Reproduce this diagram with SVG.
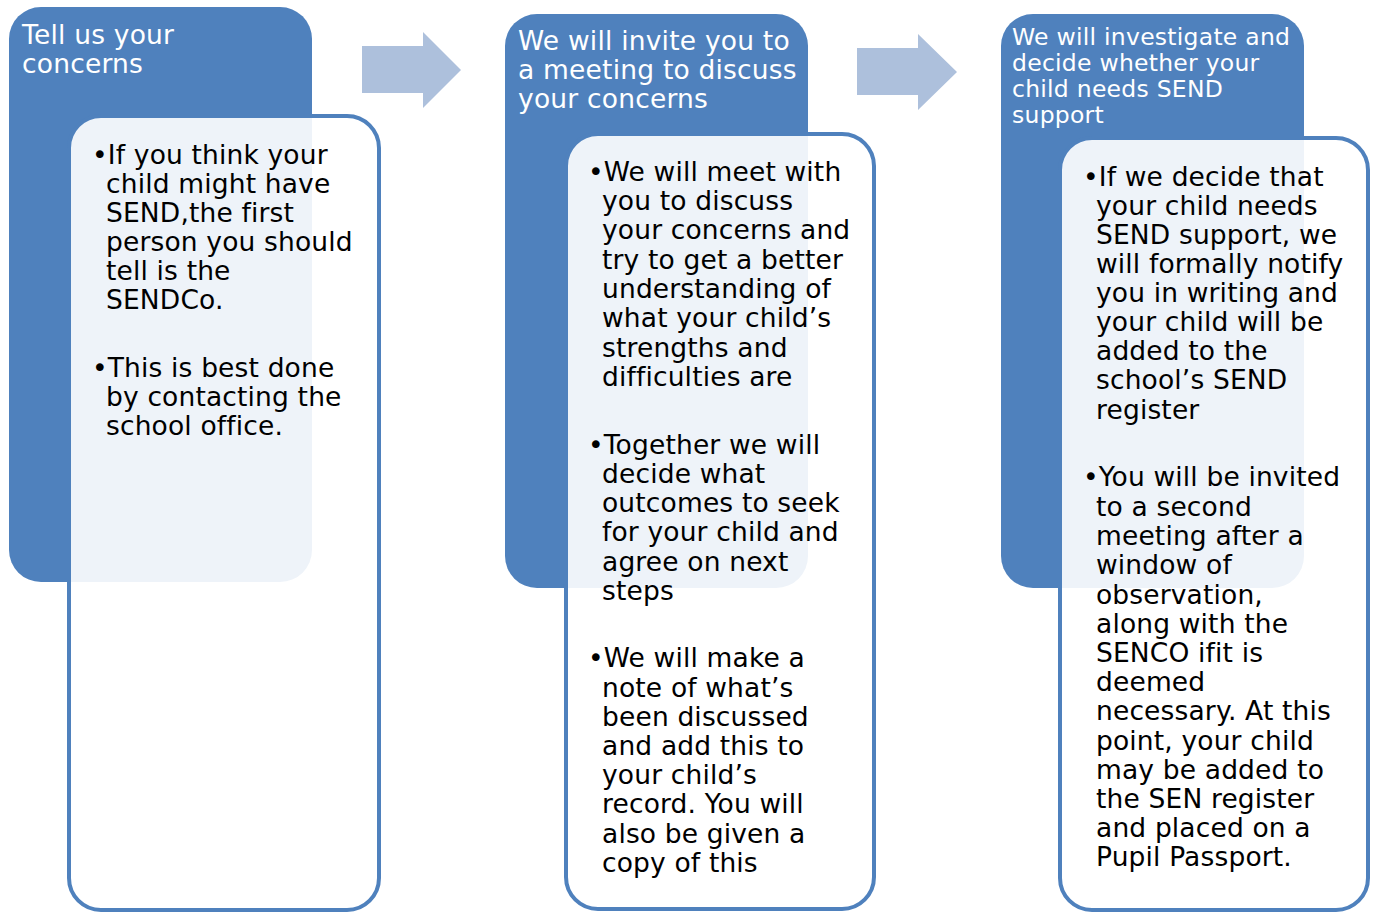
<svg xmlns="http://www.w3.org/2000/svg" width="1373" height="913" viewBox="0 0 1373 913">
<style>
.hdr{fill:#4f81bd}
.box{fill:#ffffff;fill-opacity:0.9;stroke:#4f81bd;stroke-width:4}
.arrow{fill:#adc0dc}
.ht{font-family:"DejaVu Sans",Verdana,sans-serif;font-size:26.5px;fill:#ffffff;letter-spacing:0.2px}
.ht3{font-family:"DejaVu Sans",Verdana,sans-serif;font-size:23.5px;fill:#ffffff;letter-spacing:0.25px}
.bt{font-family:"DejaVu Sans",Verdana,sans-serif;font-size:26.5px;fill:#000000;letter-spacing:0.15px}
</style>
<rect width="1373" height="913" fill="#ffffff"/>
<g id="connectors">
<path class="arrow" d="M362,46 H423 V32 L461,70 L423,108 V93 H362 Z"/>
<path class="arrow" d="M857,48 H918 V34 L957,72 L918,110 V95 H857 Z"/>
</g>
<g id="step1">
<rect class="hdr" x="9" y="7" width="303" height="575" rx="32"/>
<text class="ht"><tspan x="22" y="44">Tell us your</tspan><tspan x="22" y="73">concerns</tspan></text>
<rect class="box" x="69" y="116" width="310" height="794" rx="32"/>
<text class="bt">
<tspan x="92" y="164">•If you think your</tspan>
<tspan x="106" y="193">child might have</tspan>
<tspan x="106" y="222">SEND,the first</tspan>
<tspan x="106" y="251">person you should</tspan>
<tspan x="106" y="280">tell is the</tspan>
<tspan x="106" y="309">SENDCo.</tspan>
<tspan x="92" y="377">•This is best done</tspan>
<tspan x="106" y="406">by contacting the</tspan>
<tspan x="106" y="435">school office.</tspan>
</text>
</g>
<g id="step2">
<rect class="hdr" x="505" y="14" width="303" height="574" rx="32"/>
<text class="ht"><tspan x="518" y="50">We will invite you to</tspan><tspan x="518" y="79">a meeting to discuss</tspan><tspan x="518" y="108">your concerns</tspan></text>
<rect class="box" x="566" y="134" width="308" height="775" rx="32"/>
<text class="bt">
<tspan x="588" y="181">•We will meet with</tspan>
<tspan x="602" y="210">you to discuss</tspan>
<tspan x="602" y="239">your concerns and</tspan>
<tspan x="602" y="269">try to get a better</tspan>
<tspan x="602" y="298">understanding of</tspan>
<tspan x="602" y="327">what your child’s</tspan>
<tspan x="602" y="357">strengths and</tspan>
<tspan x="602" y="386">difficulties are</tspan>
<tspan x="588" y="454">•Together we will</tspan>
<tspan x="602" y="483">decide what</tspan>
<tspan x="602" y="512">outcomes to seek</tspan>
<tspan x="602" y="541">for your child and</tspan>
<tspan x="602" y="571">agree on next</tspan>
<tspan x="602" y="600">steps</tspan>
<tspan x="588" y="667">•We will make a</tspan>
<tspan x="602" y="697">note of what’s</tspan>
<tspan x="602" y="726">been discussed</tspan>
<tspan x="602" y="755">and add this to</tspan>
<tspan x="602" y="784">your child’s</tspan>
<tspan x="602" y="813">record. You will</tspan>
<tspan x="602" y="843">also be given a</tspan>
<tspan x="602" y="872">copy of this</tspan>
</text>
</g>
<g id="step3">
<rect class="hdr" x="1001" y="14" width="303" height="574" rx="32"/>
<text class="ht3"><tspan x="1012" y="45">We will investigate and</tspan><tspan x="1012" y="71">decide whether your</tspan><tspan x="1012" y="97">child needs SEND</tspan><tspan x="1012" y="123">support</tspan></text>
<rect class="box" x="1060" y="138" width="308" height="772" rx="32"/>
<text class="bt">
<tspan x="1083" y="186">•If we decide that</tspan>
<tspan x="1096" y="215">your child needs</tspan>
<tspan x="1096" y="244">SEND support, we</tspan>
<tspan x="1096" y="273">will formally notify</tspan>
<tspan x="1096" y="302">you in writing and</tspan>
<tspan x="1096" y="331">your child will be</tspan>
<tspan x="1096" y="360">added to the</tspan>
<tspan x="1096" y="389">school’s SEND</tspan>
<tspan x="1096" y="419">register</tspan>
<tspan x="1083" y="486">•You will be invited</tspan>
<tspan x="1096" y="516">to a second</tspan>
<tspan x="1096" y="545">meeting after a</tspan>
<tspan x="1096" y="574">window of</tspan>
<tspan x="1096" y="604">observation,</tspan>
<tspan x="1096" y="633">along with the</tspan>
<tspan x="1096" y="662">SENCO ifit is</tspan>
<tspan x="1096" y="691">deemed</tspan>
<tspan x="1096" y="720">necessary. At this</tspan>
<tspan x="1096" y="750">point, your child</tspan>
<tspan x="1096" y="779">may be added to</tspan>
<tspan x="1096" y="808">the SEN register</tspan>
<tspan x="1096" y="837">and placed on a</tspan>
<tspan x="1096" y="866">Pupil Passport.</tspan>
</text>
</g>
</svg>
